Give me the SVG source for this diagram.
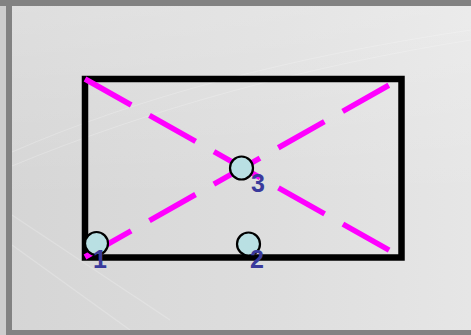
<svg xmlns="http://www.w3.org/2000/svg" width="471" height="335" viewBox="0 0 471 335">
<defs>
<linearGradient id="bg" x1="0" y1="0" x2="1" y2="0">
<stop offset="0" stop-color="#d5d5d5"/>
<stop offset="0.6" stop-color="#dedede"/>
<stop offset="1" stop-color="#e6e6e6"/>
</linearGradient>
<linearGradient id="bgv" x1="0" y1="0" x2="0" y2="1">
<stop offset="0" stop-color="#ffffff" stop-opacity="0.22"/>
<stop offset="1" stop-color="#ffffff" stop-opacity="0"/>
</linearGradient>
</defs>
<style>
.deco{fill:none;stroke:#ffffff;stroke-opacity:0.22;stroke-width:1.2}
.frame{fill:#828282}
.box{fill:none;stroke:#000000;stroke-width:6.5}
.diag{fill:none;stroke:#ff00ff;stroke-width:5.5;stroke-dasharray:53 21}
.pt{fill:#b9e0e3;stroke:#000000;stroke-width:2.2}
.lbl{font-family:"Liberation Sans",Arial,sans-serif;font-size:25px;font-weight:bold;fill:#3a3a9c;text-anchor:middle}
</style>
<rect x="0" y="0" width="471" height="335" fill="url(#bg)"/>
<rect x="0" y="0" width="471" height="200" fill="url(#bgv)"/>
<path class="deco" d="M12 152 Q200 70 471 30"/>
<path class="deco" d="M12 166 Q220 80 471 40"/>
<path class="deco" d="M12 215 L170 320"/>
<path class="deco" d="M12 245 L130 330"/>
<rect x="0" y="0" width="6" height="335" fill="#cdcdcd"/>
<rect class="frame" x="0" y="0" width="471" height="6"/>
<rect class="frame" x="6" y="0" width="6" height="335"/>
<rect class="frame" x="6" y="330" width="465" height="5"/>
<g id="frame-box">
<rect class="box" x="85" y="79" width="316.5" height="178.5"/>
</g>
<g id="connectors">
<line class="diag" x1="85" y1="79" x2="390.5" y2="251"/>
<line class="diag" x1="85" y1="257" x2="391" y2="84"/>
</g>
<g id="node-1">
<circle class="pt" cx="96.5" cy="243.5" r="11.5"/>
<text class="lbl" x="100" y="268">1</text>
</g>
<g id="node-2">
<circle class="pt" cx="248.5" cy="244" r="11.5"/>
<text class="lbl" x="257" y="268">2</text>
</g>
<g id="node-3">
<circle class="pt" cx="241.5" cy="168" r="11.5"/>
<text class="lbl" x="258" y="192">3</text>
</g>
</svg>
